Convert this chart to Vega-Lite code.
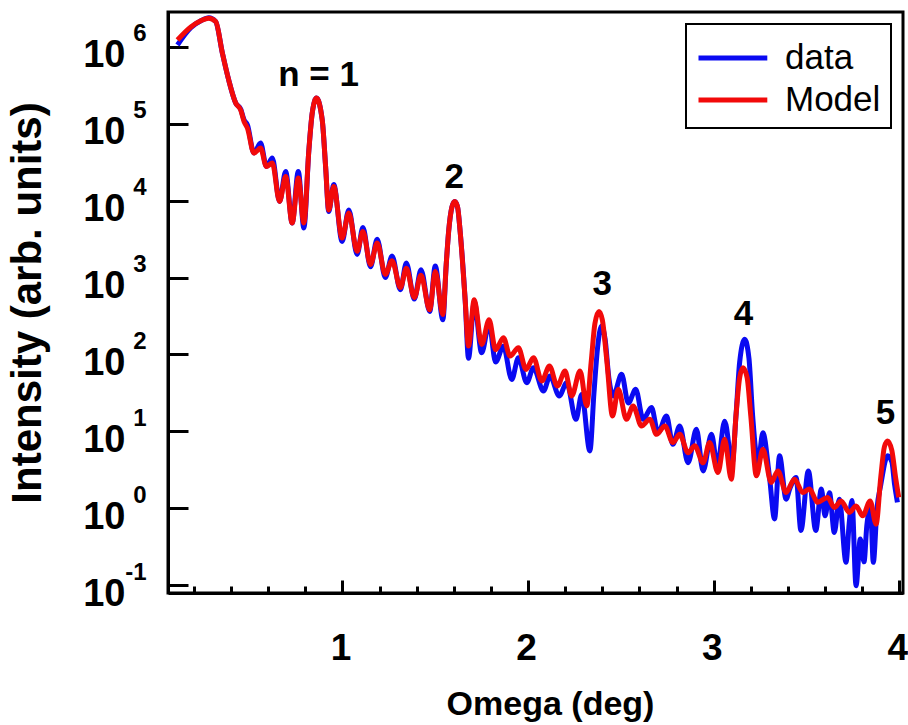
{
  "$schema": "https://vega.github.io/schema/vega-lite/v6.json",
  "width": 735,
  "height": 581,
  "autosize": {"type": "none"},
  "padding": {"left": 168, "top": 12, "right": 5, "bottom": 132},
  "background": "white",
  "config": {
    "view": {"stroke": "black", "strokeWidth": 3},
    "font": "Liberation Sans",
    "legend": {"strokeWidth": 2}
  },
  "datasets": {
    "curves": [
      {"series": "data", "omega": 0.111, "intensity": 1060000},
      {"series": "data", "omega": 0.183, "intensity": 1780000},
      {"series": "data", "omega": 0.237, "intensity": 2190000},
      {"series": "data", "omega": 0.28, "intensity": 2400000},
      {"series": "data", "omega": 0.317, "intensity": 2140000},
      {"series": "data", "omega": 0.353, "intensity": 832000},
      {"series": "data", "omega": 0.387, "intensity": 372000},
      {"series": "data", "omega": 0.425, "intensity": 186000},
      {"series": "data", "omega": 0.452, "intensity": 155000},
      {"series": "data", "omega": 0.47, "intensity": 112000},
      {"series": "data", "omega": 0.488, "intensity": 97000},
      {"series": "data", "omega": 0.523, "intensity": 41700},
      {"series": "data", "omega": 0.559, "intensity": 56100},
      {"series": "data", "omega": 0.59, "intensity": 27900},
      {"series": "data", "omega": 0.622, "intensity": 35800},
      {"series": "data", "omega": 0.661, "intensity": 9770},
      {"series": "data", "omega": 0.694, "intensity": 24000},
      {"series": "data", "omega": 0.729, "intensity": 5130},
      {"series": "data", "omega": 0.762, "intensity": 24000},
      {"series": "data", "omega": 0.792, "intensity": 4420},
      {"series": "data", "omega": 0.819, "intensity": 45700},
      {"series": "data", "omega": 0.837, "intensity": 138000},
      {"series": "data", "omega": 0.86, "intensity": 216000},
      {"series": "data", "omega": 0.891, "intensity": 112000},
      {"series": "data", "omega": 0.909, "intensity": 28200},
      {"series": "data", "omega": 0.926, "intensity": 7240},
      {"series": "data", "omega": 0.953, "intensity": 16200},
      {"series": "data", "omega": 0.998, "intensity": 2950},
      {"series": "data", "omega": 1.034, "intensity": 7590},
      {"series": "data", "omega": 1.079, "intensity": 2000},
      {"series": "data", "omega": 1.11, "intensity": 4470},
      {"series": "data", "omega": 1.151, "intensity": 1380},
      {"series": "data", "omega": 1.187, "intensity": 3160},
      {"series": "data", "omega": 1.231, "intensity": 1000},
      {"series": "data", "omega": 1.267, "intensity": 1910},
      {"series": "data", "omega": 1.312, "intensity": 692},
      {"series": "data", "omega": 1.344, "intensity": 1550},
      {"series": "data", "omega": 1.387, "intensity": 525},
      {"series": "data", "omega": 1.423, "intensity": 1260},
      {"series": "data", "omega": 1.47, "intensity": 363},
      {"series": "data", "omega": 1.5, "intensity": 1410},
      {"series": "data", "omega": 1.541, "intensity": 282},
      {"series": "data", "omega": 1.559, "intensity": 1480},
      {"series": "data", "omega": 1.572, "intensity": 3980},
      {"series": "data", "omega": 1.59, "intensity": 8320},
      {"series": "data", "omega": 1.605, "intensity": 9770},
      {"series": "data", "omega": 1.62, "intensity": 8320},
      {"series": "data", "omega": 1.634, "intensity": 3980},
      {"series": "data", "omega": 1.661, "intensity": 513},
      {"series": "data", "omega": 1.679, "intensity": 89.1},
      {"series": "data", "omega": 1.71, "intensity": 479},
      {"series": "data", "omega": 1.75, "intensity": 105},
      {"series": "data", "omega": 1.79, "intensity": 251},
      {"series": "data", "omega": 1.825, "intensity": 79.4},
      {"series": "data", "omega": 1.867, "intensity": 128},
      {"series": "data", "omega": 1.912, "intensity": 47.3},
      {"series": "data", "omega": 1.948, "intensity": 90.6},
      {"series": "data", "omega": 1.993, "intensity": 42.9},
      {"series": "data", "omega": 2.029, "intensity": 67.0},
      {"series": "data", "omega": 2.083, "intensity": 33.4},
      {"series": "data", "omega": 2.118, "intensity": 52.4},
      {"series": "data", "omega": 2.168, "intensity": 28.8},
      {"series": "data", "omega": 2.208, "intensity": 42.9},
      {"series": "data", "omega": 2.258, "intensity": 14.3},
      {"series": "data", "omega": 2.289, "intensity": 30.2},
      {"series": "data", "omega": 2.333, "intensity": 5.55},
      {"series": "data", "omega": 2.355, "intensity": 31.6},
      {"series": "data", "omega": 2.375, "intensity": 126},
      {"series": "data", "omega": 2.396, "intensity": 234},
      {"series": "data", "omega": 2.415, "intensity": 158},
      {"series": "data", "omega": 2.435, "intensity": 50.1},
      {"series": "data", "omega": 2.459, "intensity": 28.8},
      {"series": "data", "omega": 2.504, "intensity": 55.0},
      {"series": "data", "omega": 2.54, "intensity": 23.4},
      {"series": "data", "omega": 2.58, "intensity": 35.1},
      {"series": "data", "omega": 2.62, "intensity": 14.3},
      {"series": "data", "omega": 2.665, "intensity": 20.4},
      {"series": "data", "omega": 2.7, "intensity": 9.55},
      {"series": "data", "omega": 2.746, "intensity": 15.8},
      {"series": "data", "omega": 2.78, "intensity": 6.76},
      {"series": "data", "omega": 2.817, "intensity": 11.7},
      {"series": "data", "omega": 2.862, "intensity": 3.89},
      {"series": "data", "omega": 2.907, "intensity": 10.6},
      {"series": "data", "omega": 2.943, "intensity": 3.05},
      {"series": "data", "omega": 2.988, "intensity": 9.12},
      {"series": "data", "omega": 3.02, "intensity": 3.55},
      {"series": "data", "omega": 3.059, "intensity": 13.5},
      {"series": "data", "omega": 3.1, "intensity": 3.89},
      {"series": "data", "omega": 3.12, "intensity": 15.8},
      {"series": "data", "omega": 3.14, "intensity": 79.4},
      {"series": "data", "omega": 3.167, "intensity": 157},
      {"series": "data", "omega": 3.19, "intensity": 89.1},
      {"series": "data", "omega": 3.21, "intensity": 15.8},
      {"series": "data", "omega": 3.239, "intensity": 3.89},
      {"series": "data", "omega": 3.265, "intensity": 9.55},
      {"series": "data", "omega": 3.3, "intensity": 2.63},
      {"series": "data", "omega": 3.328, "intensity": 0.724},
      {"series": "data", "omega": 3.355, "intensity": 4.79},
      {"series": "data", "omega": 3.39, "intensity": 1.31},
      {"series": "data", "omega": 3.41, "intensity": 1.78},
      {"series": "data", "omega": 3.444, "intensity": 2.51},
      {"series": "data", "omega": 3.47, "intensity": 0.513},
      {"series": "data", "omega": 3.51, "intensity": 3.05},
      {"series": "data", "omega": 3.55, "intensity": 0.513},
      {"series": "data", "omega": 3.58, "intensity": 1.78},
      {"series": "data", "omega": 3.6, "intensity": 0.794},
      {"series": "data", "omega": 3.624, "intensity": 1.58},
      {"series": "data", "omega": 3.65, "intensity": 0.483},
      {"series": "data", "omega": 3.677, "intensity": 1.31},
      {"series": "data", "omega": 3.713, "intensity": 0.197},
      {"series": "data", "omega": 3.73, "intensity": 0.631},
      {"series": "data", "omega": 3.745, "intensity": 1.26},
      {"series": "data", "omega": 3.767, "intensity": 0.0977},
      {"series": "data", "omega": 3.79, "intensity": 0.398},
      {"series": "data", "omega": 3.81, "intensity": 0.2},
      {"series": "data", "omega": 3.825, "intensity": 0.589},
      {"series": "data", "omega": 3.845, "intensity": 1.0},
      {"series": "data", "omega": 3.86, "intensity": 0.197},
      {"series": "data", "omega": 3.88, "intensity": 1.0},
      {"series": "data", "omega": 3.9, "intensity": 2.0},
      {"series": "data", "omega": 3.937, "intensity": 4.79},
      {"series": "data", "omega": 3.96, "intensity": 3.98},
      {"series": "data", "omega": 3.975, "intensity": 2.0},
      {"series": "data", "omega": 3.99, "intensity": 1.19},
      {"series": "Model", "omega": 0.111, "intensity": 1230000},
      {"series": "Model", "omega": 0.183, "intensity": 1820000},
      {"series": "Model", "omega": 0.237, "intensity": 2190000},
      {"series": "Model", "omega": 0.28, "intensity": 2370000},
      {"series": "Model", "omega": 0.317, "intensity": 2140000},
      {"series": "Model", "omega": 0.353, "intensity": 832000},
      {"series": "Model", "omega": 0.387, "intensity": 372000},
      {"series": "Model", "omega": 0.425, "intensity": 186000},
      {"series": "Model", "omega": 0.452, "intensity": 151000},
      {"series": "Model", "omega": 0.47, "intensity": 107000},
      {"series": "Model", "omega": 0.488, "intensity": 87900},
      {"series": "Model", "omega": 0.523, "intensity": 41700},
      {"series": "Model", "omega": 0.559, "intensity": 48300},
      {"series": "Model", "omega": 0.59, "intensity": 27900},
      {"series": "Model", "omega": 0.622, "intensity": 30900},
      {"series": "Model", "omega": 0.661, "intensity": 9770},
      {"series": "Model", "omega": 0.694, "intensity": 20700},
      {"series": "Model", "omega": 0.729, "intensity": 5130},
      {"series": "Model", "omega": 0.762, "intensity": 19700},
      {"series": "Model", "omega": 0.792, "intensity": 5130},
      {"series": "Model", "omega": 0.819, "intensity": 45700},
      {"series": "Model", "omega": 0.837, "intensity": 138000},
      {"series": "Model", "omega": 0.86, "intensity": 216000},
      {"series": "Model", "omega": 0.891, "intensity": 112000},
      {"series": "Model", "omega": 0.909, "intensity": 28200},
      {"series": "Model", "omega": 0.926, "intensity": 7590},
      {"series": "Model", "omega": 0.953, "intensity": 15300},
      {"series": "Model", "omega": 0.998, "intensity": 3270},
      {"series": "Model", "omega": 1.034, "intensity": 6920},
      {"series": "Model", "omega": 1.079, "intensity": 2200},
      {"series": "Model", "omega": 1.11, "intensity": 3980},
      {"series": "Model", "omega": 1.151, "intensity": 1480},
      {"series": "Model", "omega": 1.187, "intensity": 2820},
      {"series": "Model", "omega": 1.231, "intensity": 1100},
      {"series": "Model", "omega": 1.267, "intensity": 1660},
      {"series": "Model", "omega": 1.312, "intensity": 741},
      {"series": "Model", "omega": 1.344, "intensity": 1320},
      {"series": "Model", "omega": 1.387, "intensity": 550},
      {"series": "Model", "omega": 1.423, "intensity": 1070},
      {"series": "Model", "omega": 1.47, "intensity": 380},
      {"series": "Model", "omega": 1.5, "intensity": 1200},
      {"series": "Model", "omega": 1.541, "intensity": 331},
      {"series": "Model", "omega": 1.559, "intensity": 1480},
      {"series": "Model", "omega": 1.572, "intensity": 3980},
      {"series": "Model", "omega": 1.59, "intensity": 8320},
      {"series": "Model", "omega": 1.605, "intensity": 9770},
      {"series": "Model", "omega": 1.62, "intensity": 8320},
      {"series": "Model", "omega": 1.634, "intensity": 3980},
      {"series": "Model", "omega": 1.661, "intensity": 513},
      {"series": "Model", "omega": 1.679, "intensity": 129},
      {"series": "Model", "omega": 1.71, "intensity": 513},
      {"series": "Model", "omega": 1.75, "intensity": 135},
      {"series": "Model", "omega": 1.79, "intensity": 282},
      {"series": "Model", "omega": 1.825, "intensity": 115},
      {"series": "Model", "omega": 1.867, "intensity": 165},
      {"series": "Model", "omega": 1.903, "intensity": 95.1},
      {"series": "Model", "omega": 1.948, "intensity": 122},
      {"series": "Model", "omega": 1.989, "intensity": 63.8},
      {"series": "Model", "omega": 2.029, "intensity": 90.6},
      {"series": "Model", "omega": 2.074, "intensity": 45.1},
      {"series": "Model", "omega": 2.115, "intensity": 70.5},
      {"series": "Model", "omega": 2.158, "intensity": 38.8},
      {"series": "Model", "omega": 2.199, "intensity": 60.7},
      {"series": "Model", "omega": 2.235, "intensity": 28.8},
      {"series": "Model", "omega": 2.28, "intensity": 60.7},
      {"series": "Model", "omega": 2.316, "intensity": 21.4},
      {"series": "Model", "omega": 2.34, "intensity": 79.4},
      {"series": "Model", "omega": 2.36, "intensity": 251},
      {"series": "Model", "omega": 2.382, "intensity": 363},
      {"series": "Model", "omega": 2.4, "intensity": 282},
      {"series": "Model", "omega": 2.425, "intensity": 79.4},
      {"series": "Model", "omega": 2.455, "intensity": 15.8},
      {"series": "Model", "omega": 2.486, "intensity": 35.1},
      {"series": "Model", "omega": 2.53, "intensity": 14.3},
      {"series": "Model", "omega": 2.566, "intensity": 21.4},
      {"series": "Model", "omega": 2.611, "intensity": 11.7},
      {"series": "Model", "omega": 2.656, "intensity": 14.3},
      {"series": "Model", "omega": 2.692, "intensity": 9.12},
      {"series": "Model", "omega": 2.737, "intensity": 11.7},
      {"series": "Model", "omega": 2.78, "intensity": 7.13},
      {"series": "Model", "omega": 2.817, "intensity": 9.12},
      {"series": "Model", "omega": 2.862, "intensity": 5.25},
      {"series": "Model", "omega": 2.898, "intensity": 6.46},
      {"series": "Model", "omega": 2.943, "intensity": 3.89},
      {"series": "Model", "omega": 2.978, "intensity": 7.13},
      {"series": "Model", "omega": 3.023, "intensity": 2.9},
      {"series": "Model", "omega": 3.059, "intensity": 7.87},
      {"series": "Model", "omega": 3.095, "intensity": 2.38},
      {"series": "Model", "omega": 3.12, "intensity": 15.8},
      {"series": "Model", "omega": 3.14, "intensity": 50.1},
      {"series": "Model", "omega": 3.158, "intensity": 67.0},
      {"series": "Model", "omega": 3.18, "intensity": 50.1},
      {"series": "Model", "omega": 3.2, "intensity": 15.8},
      {"series": "Model", "omega": 3.23, "intensity": 2.63},
      {"series": "Model", "omega": 3.265, "intensity": 5.83},
      {"series": "Model", "omega": 3.31, "intensity": 2.16},
      {"series": "Model", "omega": 3.346, "intensity": 3.05},
      {"series": "Model", "omega": 3.39, "intensity": 1.6},
      {"series": "Model", "omega": 3.435, "intensity": 2.38},
      {"series": "Model", "omega": 3.48, "intensity": 1.6},
      {"series": "Model", "omega": 3.516, "intensity": 1.77},
      {"series": "Model", "omega": 3.56, "intensity": 1.19},
      {"series": "Model", "omega": 3.614, "intensity": 1.38},
      {"series": "Model", "omega": 3.65, "intensity": 1.02},
      {"series": "Model", "omega": 3.686, "intensity": 1.24},
      {"series": "Model", "omega": 3.731, "intensity": 0.879},
      {"series": "Model", "omega": 3.767, "intensity": 1.07},
      {"series": "Model", "omega": 3.803, "intensity": 0.794},
      {"series": "Model", "omega": 3.843, "intensity": 1.24},
      {"series": "Model", "omega": 3.875, "intensity": 0.619},
      {"series": "Model", "omega": 3.9, "intensity": 2.51},
      {"series": "Model", "omega": 3.92, "intensity": 6.31},
      {"series": "Model", "omega": 3.937, "intensity": 7.48},
      {"series": "Model", "omega": 3.96, "intensity": 5.62},
      {"series": "Model", "omega": 3.98, "intensity": 2.51},
      {"series": "Model", "omega": 3.997, "intensity": 1.38}
    ],
    "labels": [
      {"omega": 0.871, "intensity": 433000, "label": "n = 1"},
      {"omega": 1.602, "intensity": 20200, "label": "2"},
      {"omega": 2.4, "intensity": 824, "label": "3"},
      {"omega": 3.161, "intensity": 340, "label": "4"},
      {"omega": 3.926, "intensity": 17.4, "label": "5"}
    ]
  },
  "resolve": {"axis": {"y": "independent"}},
  "encoding": {
    "x": {
      "field": "omega",
      "type": "quantitative",
      "scale": {"domain": [0.06, 4.02], "nice": false, "zero": false},
      "axis": {
        "values": [0.2, 0.4, 0.6, 0.8, 1, 1.2, 1.4, 1.6, 1.8, 2, 2.2, 2.4, 2.6, 2.8, 3, 3.2, 3.4, 3.6, 3.8, 4],
        "labelExpr": "abs(datum.value - round(datum.value)) < 0.001 ? format(datum.value, 'd') : ''",
        "tickSize": {"condition": {"test": "abs(datum.value - round(datum.value)) < 0.001", "value": -13}, "value": -7},
        "tickWidth": 3,
        "tickColor": "black",
        "domainWidth": 3,
        "domainColor": "black",
        "grid": false,
        "labelFlush": false,
        "labelOverlap": false,
        "labelFont": "Liberation Sans",
        "labelFontSize": 37,
        "labelFontWeight": "bold",
        "labelColor": "black",
        "labelPadding": 50,
        "labelOffset": -2,
        "title": "Omega (deg)",
        "titleFont": "Liberation Sans",
        "titleFontSize": 34,
        "titleFontWeight": "bold",
        "titleColor": "black",
        "titlePadding": 15,
        "titleX": 382
      }
    }
  },
  "layer": [
    {
      "data": {"name": "curves"},
      "transform": [{"filter": "datum.series === 'data'"}],
      "mark": {"type": "line", "interpolate": "monotone", "strokeWidth": 5, "clip": true},
      "encoding": {
        "y": {
          "field": "intensity",
          "type": "quantitative",
          "scale": {"type": "log", "domain": [0.0787, 2850000], "nice": false},
          "axis": {
            "orient": "left",
            "values": [0.1, 1, 10, 100, 1000, 10000, 100000, 1000000],
            "labelExpr": "datum.value < 0.5 ? '10\u2009' : '10'",
            "tickSize": -20,
            "tickWidth": 3,
            "tickColor": "black",
            "domainWidth": 3,
            "domainColor": "black",
            "grid": false,
            "labelOverlap": false,
            "labelFont": "Liberation Sans",
            "labelFontSize": 38,
            "labelFontWeight": "bold",
            "labelColor": "black",
            "labelPadding": 63,
            "labelOffset": 9,
            "title": "Intensity (arb. units)",
            "titleFont": "Liberation Sans",
            "titleFontSize": 42,
            "titleFontWeight": "bold",
            "titleColor": "black",
            "titlePadding": 33
          }
        },
        "color": {
          "field": "series",
          "type": "nominal",
          "scale": {"domain": ["data", "Model"], "range": ["#0a0af2", "#f20a0a"]},
          "legend": {
            "title": null,
            "orient": "top-right",
            "offset": 12,
            "padding": 10,
            "strokeColor": "black",
            "fillColor": "white",
            "labelFont": "Liberation Sans",
            "labelFontSize": 35,
            "labelColor": "black",
            "symbolType": "M-1,0H2.2",
            "symbolSize": 1849,
            "symbolStrokeWidth": 5,
            "labelOffset": 41,
            "rowPadding": 0
          }
        }
      }
    },
    {
      "data": {"name": "curves"},
      "transform": [{"filter": "datum.series === 'Model'"}],
      "mark": {"type": "line", "interpolate": "monotone", "strokeWidth": 5, "clip": true},
      "encoding": {
        "y": {
          "field": "intensity",
          "type": "quantitative",
          "scale": {"type": "log", "domain": [0.0787, 2850000], "nice": false},
          "axis": {
            "orient": "left",
            "values": [0.1, 1, 10, 100, 1000, 10000, 100000, 1000000],
            "labelExpr": "'' + round(log(datum.value) / LN10)",
            "ticks": false,
            "domain": false,
            "grid": false,
            "labelOverlap": false,
            "labelFont": "Liberation Sans",
            "labelFontSize": 24,
            "labelFontWeight": "bold",
            "labelColor": "black",
            "labelPadding": 22,
            "labelOffset": -13,
            "title": null
          }
        },
        "color": {
          "field": "series",
          "type": "nominal",
          "scale": {"domain": ["data", "Model"], "range": ["#0a0af2", "#f20a0a"]}
        }
      }
    },
    {
      "data": {"name": "labels"},
      "mark": {"type": "text", "font": "Liberation Sans", "fontSize": 35, "fontWeight": "bold", "color": "black", "baseline": "middle", "align": "center"},
      "encoding": {
        "y": {
          "field": "intensity",
          "type": "quantitative",
          "scale": {"type": "log", "domain": [0.0787, 2850000], "nice": false},
          "axis": null
        },
        "text": {"field": "label", "type": "nominal"}
      }
    }
  ]
}
